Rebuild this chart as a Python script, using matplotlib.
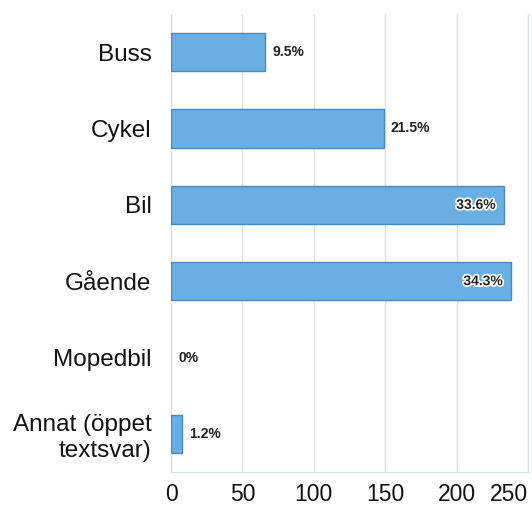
import matplotlib.pyplot as plt
import matplotlib.patheffects as pe

plt.rcParams['font.family'] = ['Liberation Sans', 'DejaVu Sans']

# svar per färdsätt
categories = ['Buss', 'Cykel', 'Bil', 'Gående', 'Mopedbil', 'Annat (öppet\ntextsvar)']
counts = [66, 149, 233, 238, 0, 8]
pct_labels = ['9.5%', '21.5%', '33.6%', '34.3%', '0%', '1.2%']
inside = [False, False, True, True, False, False]
xticks = [0, 50, 100, 150, 200, 250]

fig = plt.figure(figsize=(5.32, 5.07), dpi=100)
ax = fig.add_axes([171/532, 1 - 472/507, 357/532, 458/507])

ypos = list(range(len(categories)))
widths = [1 if c > 0 else 0 for c in counts]
ax.barh(ypos, counts, height=0.5, color='#6aafe3', edgecolor='#4a88c2', linewidth=widths, zorder=3)

for y, c, lab, ins in zip(ypos, counts, pct_labels, inside):
    if ins:
        ax.text(c - 5.5, y, lab, ha='right', va='center', fontsize=10, fontweight='bold',
                color='#222222', zorder=4,
                path_effects=[pe.withStroke(linewidth=2.5, foreground='white')])
    else:
        ax.text(c + 5, y, lab, ha='left', va='center', fontsize=10, fontweight='bold',
                color='#222222', zorder=4)

ax.set_xlim(0, 250)
ax.set_ylim(len(categories) - 0.5, -0.5)
ax.set_yticks(ypos)
ax.set_yticklabels(categories, fontsize=17.5, color='#111111')
ax.set_xticks(xticks)
ax.set_xticklabels([str(t) for t in xticks], fontsize=16.5, color='#111111')
ax.get_xticklabels()[-1].set_ha('right')
ax.tick_params(axis='both', length=0)
ax.tick_params(axis='y', pad=14)
ax.tick_params(axis='x', pad=8)

ax.grid(axis='x', color='#dedfe6', linewidth=1, zorder=0)
for s in ['left', 'bottom', 'right', 'top']:
    ax.spines[s].set_color('#d6dbe8')
ax.spines['top'].set_visible(False)

fig.savefig('out.png', dpi=100)
